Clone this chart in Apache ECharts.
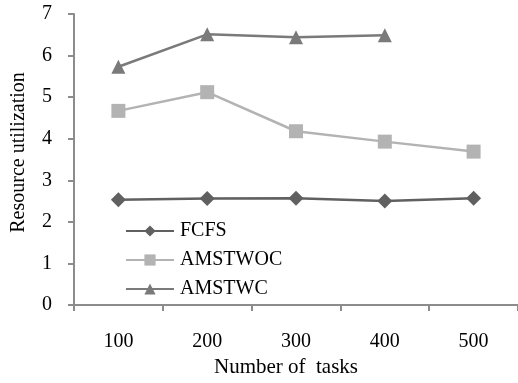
<!DOCTYPE html>
<html><head><meta charset="utf-8">
<script src="https://cdn.jsdelivr.net/npm/echarts@6/dist/echarts.min.js"></script>
<style>html,body{margin:0;padding:0;background:#fff}#c{width:518px;height:383px}</style>
</head><body><div id="c"></div>
<script>
var categories = ['100','200','300','400','500'];
var fcfs = [2.53, 2.56, 2.57, 2.50, 2.57];
var amstwoc = [4.67, 5.12, 4.18, 3.93, 3.69];
var amstwc = [5.73, 6.51, 6.44, 6.49, null];
var yTicks = [0,1,2,3,4,5,6,7];

var font = '"Liberation Serif", "Times New Roman", serif';
var chart = echarts.init(document.getElementById('c'));
chart.setOption({
  animation: false,
  textStyle: {fontFamily: font},
  grid: {left: 74, right: -6, top: 14, bottom: 78},
  legend: {
    orient: 'vertical', left: 120, top: 216, itemGap: 9,
    itemWidth: 48, itemHeight: 14,
    textStyle: {fontFamily: font, fontSize: 20, color: '#000', padding: [0,0,0,1]},
    data: ['FCFS','AMSTWOC','AMSTWC']
  },
  xAxis: {
    type: 'category', data: categories, boundaryGap: true,
    name: 'Number of  tasks', nameLocation: 'middle', nameGap: 52,
    nameTextStyle: {fontFamily: font, fontSize: 21, color: '#000', padding: [0, 20, 0, 0]},
    axisLine: {lineStyle: {color: '#8c8c8c', width: 2}},
    axisTick: {show: true, length: 6, lineStyle: {color: '#8c8c8c', width: 2}},
    axisLabel: {fontFamily: font, fontSize: 20, color: '#000', margin: 27}
  },
  yAxis: {
    type: 'value', min: yTicks[0], max: yTicks[yTicks.length-1], interval: 1,
    name: 'Resource utilization', nameLocation: 'middle', nameGap: 45,
    nameTextStyle: {fontFamily: font, fontSize: 20, color: '#000', padding: [0, 0, 0, 14]},
    axisLine: {show: true, lineStyle: {color: '#8c8c8c', width: 2}},
    axisTick: {show: true, length: 6, lineStyle: {color: '#8c8c8c', width: 2}},
    splitLine: {show: false},
    axisLabel: {fontFamily: font, fontSize: 20, color: '#000', margin: 22}
  },
  series: [
    {name: 'FCFS', type: 'line', data: fcfs, symbol: 'diamond', symbolSize: 15,
     lineStyle: {color: '#606060', width: 2.5}, itemStyle: {color: '#606060'}},
    {name: 'AMSTWOC', type: 'line', data: amstwoc, symbol: 'rect', symbolSize: 14,
     lineStyle: {color: '#b3b3b3', width: 2.5}, itemStyle: {color: '#b3b3b3'}},
    {name: 'AMSTWC', type: 'line', data: amstwc, symbol: 'triangle', symbolSize: 14,
     lineStyle: {color: '#7a7a7a', width: 2.5}, itemStyle: {color: '#7a7a7a'}}
  ]
});
</script></body></html>
